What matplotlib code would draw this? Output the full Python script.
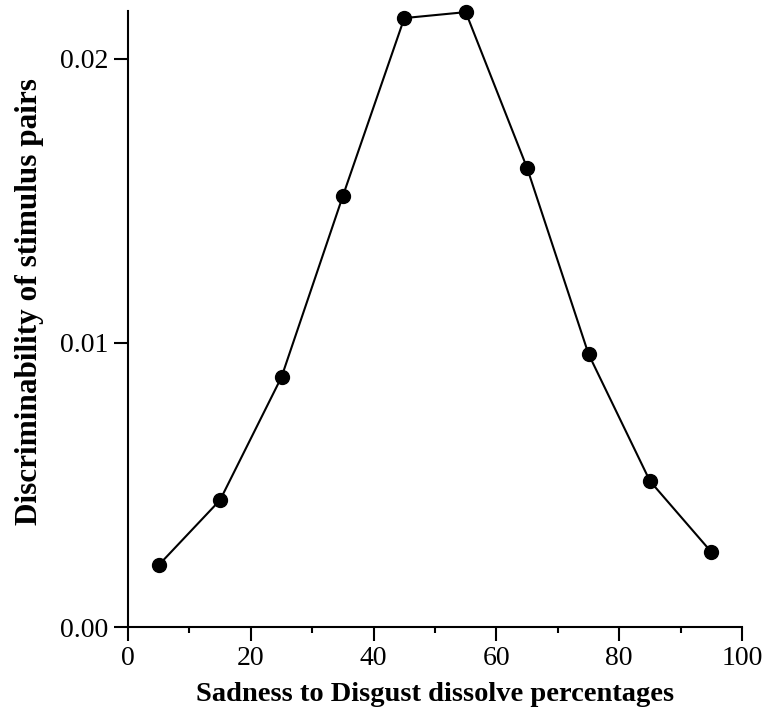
import numpy as np
import matplotlib.pyplot as plt
from matplotlib.ticker import MultipleLocator

plt.rcParams['font.family'] = ['Liberation Serif', 'DejaVu Serif']

# datos
pct = [5, 15, 25, 35, 45, 55, 65, 75, 85, 95]
discr = [0.00218, 0.00447, 0.00880, 0.01518, 0.02144, 0.02165,
         0.01616, 0.00961, 0.00514, 0.00264]

fig = plt.figure(figsize=(7.65, 7.13), dpi=100)
ax = fig.add_axes([0.1673, 0.1206, 0.8027, 0.864])

ax.plot(pct, discr, '-', color='k', lw=1.5, marker='o', ms=10, clip_on=False)

ax.set_xlim(0, 100)
ax.set_ylim(0, 0.02169)
ax.xaxis.set_major_locator(MultipleLocator(20))
ax.xaxis.set_minor_locator(MultipleLocator(10))
ax.set_yticks([0, 0.01, 0.02])
ax.set_yticklabels(['0.00', '0.01', '0.02'])

for s in ['top', 'right']:
    ax.spines[s].set_visible(False)
for s in ['left', 'bottom']:
    ax.spines[s].set_linewidth(1.5)
ax.tick_params(which='major', direction='out', length=10, width=1.5, labelsize=20, pad=4)
ax.tick_params(which='minor', direction='out', length=4.5, width=1.5)

ax.set_xlabel('Sadness to Disgust dissolve percentages', fontsize=20.5, fontweight='bold')
ax.set_ylabel('Discriminability of stimulus pairs', fontsize=22.5, fontweight='bold')
ax.xaxis.set_label_coords(0.5, -0.089)
ax.yaxis.set_label_coords(-0.137, 0.529)

fig.savefig('out.png', dpi=100)
